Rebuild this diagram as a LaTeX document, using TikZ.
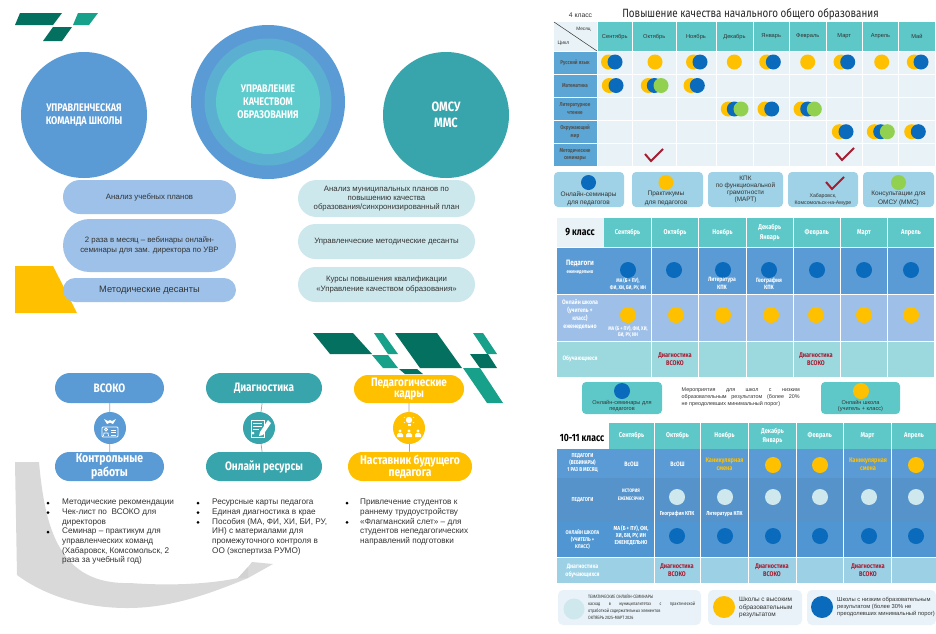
\documentclass[tikz,border=0pt]{standalone}
\usepackage{fontspec}
\setmainfont{Liberation Sans}
\newfontfamily\cond[FakeStretch=0.82]{Fira Sans}
\usetikzlibrary{shapes.misc}
\definecolor{dkteal}{HTML}{04705F}
\definecolor{ltteal}{HTML}{17A08A}
\definecolor{cblue}{HTML}{5B9BD5}
\definecolor{cteal}{HTML}{38A5AC}
\definecolor{cmid}{HTML}{5BB0D2}
\definecolor{cin}{HTML}{5ECBCD}
\definecolor{pblue}{HTML}{9DC1E8}
\definecolor{pltl}{HTML}{CDE8EC}
\definecolor{cyell}{HTML}{FFC000}
\definecolor{hdr}{HTML}{5EC8C8}
\definecolor{lite}{HTML}{E9F2F6}
\definecolor{first}{HTML}{5BA6D4}
\definecolor{dblue}{HTML}{0A6ABC}
\definecolor{dgreen}{HTML}{92D050}
\definecolor{chk}{HTML}{A61C30}
\definecolor{leg}{HTML}{9FD2E6}
\definecolor{ink}{HTML}{333333}
\definecolor{r9a}{HTML}{5B9BD5}
\definecolor{r9b}{HTML}{9DBFE8}
\definecolor{r9c}{HTML}{9CD9DF}
\definecolor{r10c}{HTML}{4F96D2}
\definecolor{r10d}{HTML}{9CD0E5}
\definecolor{dotl}{HTML}{CFE8EE}
\definecolor{pale}{HTML}{E8F2F8}
\definecolor{greyar}{HTML}{D9D9D9}
\newcommand{\fz}[2]{\fontsize{#1}{#2}\selectfont}
\tikzset{
  pill/.style={rounded rectangle,inner sep=0pt,align=center,text=ink},
  bigc/.style={circle,inner sep=0pt,align=center,text=white,font=\cond\bfseries\fz{11}{13}},
  hpill/.style={rounded rectangle,inner sep=0pt,align=center,text=white,font=\cond\bfseries\fz{12.2}{11}},
  icon/.style={circle,inner sep=0pt,minimum size=32pt},
  link/.style={draw=gray!70,line width=0.7pt},
  txt/.style={inner sep=0pt,align=center},
  lst/.style={inner sep=0pt,align=left,anchor=north west,text=ink,font=\fz{8.2}{9.67}},
  bul/.style={circle,fill=black,inner sep=0pt,minimum size=3pt},
  dot/.style={circle,inner sep=0pt,minimum size=15pt},
  dotb/.style={circle,inner sep=0pt,minimum size=16pt},
  hdt/.style={txt,font=\fz{5.7}{7},text=ink},
  rowt/.style={txt,font=\cond\bfseries\fz{5.6}{7.5},text=ink!85},
  hw/.style={txt,font=\cond\bfseries\fz{7}{9.5},text=white},
  sw/.style={txt,font=\cond\bfseries\fz{5.3}{6.4},text=white},
  redt/.style={txt,font=\cond\bfseries\fz{6.8}{8},text=chk},
  legt/.style={txt,font=\fz{6.5}{8.3},text=ink},
  legs/.style={inner sep=0pt,align=left,anchor=west,text=ink}
}
\newcommand{\ck}[2]{\draw[chk,line width=2pt] (#1-9,#2-1) -- (#1-3,#2+6) -- (#1+9,#2-6);}
\begin{document}
\begin{tikzpicture}[x=1pt,y=-1pt]
\useasboundingbox (0,0) rectangle (936,633);
\fill[white] (0,0) rectangle (936,633);
% logo
\fill[dkteal] (20,13)--(62,13)--(53,25)--(15,25)--cycle;
\fill[ltteal] (78,13)--(98,13)--(89,25)--(73,25)--cycle;
\fill[dkteal] (53,27)--(72,27)--(62,41)--(43,41)--cycle;
% circles
\node[bigc,fill=cblue,minimum size=126pt] (cleft) at (84,115) {УПРАВЛЕНЧЕСКАЯ\\КОМАНДА ШКОЛЫ};
\node[circle,fill=cblue,minimum size=154pt,inner sep=0pt] (c1) at (268,102) {};
\node[circle,fill=cmid,minimum size=127pt,inner sep=0pt] (c2) at (268,102) {};
\node[bigc,fill=cin,minimum size=104pt] (c3) at (268,102) {УПРАВЛЕНИЕ\\КАЧЕСТВОМ\\ОБРАЗОВАНИЯ};
\node[bigc,fill=cteal,minimum size=126pt,font=\cond\bfseries\fz{13.5}{16.5}] (cright) at (446,115) {ОМСУ\\ММС};
% yellow block, under pills
\fill[cyell] (15,266)--(53,266)--(77,313)--(15,313)--cycle;
% left pills
\node[pill,fill=pblue,minimum width=173pt,minimum height=34pt,font=\fz{7.8}{9.2}] (p1) at (149.5,197) {Анализ учебных планов};
\node[pill,fill=pblue,minimum width=173pt,minimum height=53pt,font=\fz{7.8}{9.2}] (p2) at (149.5,245.5) {2 раза в месяц – вебинары онлайн-\\семинары для зам. директора по УВР};
\node[pill,fill=pblue,minimum width=173pt,minimum height=24pt,font=\fz{9.3}{11}] (p3) at (149.5,290) {Методические десанты};
% right pills
\node[pill,fill=pltl,minimum width=177pt,minimum height=37pt,font=\fz{7.8}{9.2}] (q1) at (386.5,198.5) {Анализ муниципальных планов по\\повышению качества\\образования/синхронизированный план};
\node[pill,fill=pltl,minimum width=177pt,minimum height=35pt,font=\fz{7.8}{9.2}] (q2) at (386.5,241.5) {Управленческие методические десанты};
\node[pill,fill=pltl,minimum width=177pt,minimum height=35pt,font=\fz{7.8}{9.2}] (q3) at (386.5,284.5) {Курсы повышения квалификации\\«Управление качеством образования»};
% big teal logo
\fill[dkteal] (313,333)--(353,333)--(372,354)--(330,354)--cycle;
\fill[ltteal] (374,333)--(383,333)--(398,354)--(388,354)--cycle;
\fill[ltteal] (372,355)--(388,355)--(398,368)--(383,368)--cycle;
\fill[dkteal] (395,333)--(437,333)--(462,368)--(420,368)--cycle;
\fill[dkteal] (399,369)--(417,369)--(423,374)--(405,374)--cycle;
\fill[ltteal] (473,333)--(483,333)--(497,354)--(487,354)--cycle;
\fill[dkteal] (470,354)--(488,354)--(497,368)--(480,368)--cycle;
\fill[ltteal] (463,368)--(480,368)--(503,403)--(487,403)--cycle;
% grey arrow
\fill[greyar] (15,462) -- (39,462) .. controls (45,530) and (60,585) .. (130,583)
  .. controls (170,586) and (210,584) .. (238,578) -- (248,567) -- (252,562) -- (273,564) -- (248,578)
  .. controls (200,598) and (165,608) .. (127,608) .. controls (85,608) and (45,596) .. (17,575) -- cycle;
\fill[gray!35] (238,578)--(248,567)--(248,578)--cycle;
% pills 3 columns
\node[hpill,fill=cblue,minimum width=109pt,minimum height=30pt] (h1) at (109.5,388) {ВСОКО};
\node[hpill,fill=cblue,minimum width=109pt,minimum height=29pt,font=\cond\bfseries\fz{12.8}{14.5}] (h2) at (109.5,466.5) {Контрольные\\работы};
\node[hpill,fill=cteal,minimum width=116pt,minimum height=30pt] (h3) at (264,388) {Диагностика};
\node[hpill,fill=cteal,minimum width=116pt,minimum height=29pt] (h4) at (264,466.5) {Онлайн ресурсы};
\node[hpill,fill=cyell,minimum width=110pt,minimum height=28pt] (h5) at (409,389) {Педагогические\\кадры};
\node[hpill,fill=cyell,minimum width=124pt,minimum height=29pt,font=\cond\bfseries\fz{12.6}{12.4}] (h6) at (410,466.5) {Наставник будущего\\педагога};
\node[icon,fill=cblue] (i1) at (110,428) {};
\node[icon,fill=cteal] (i2) at (259,428) {};
\node[icon,fill=cyell] (i3) at (409,428) {};
\draw[link] (h1) -- (i1);
\draw[link] (i1) -- (h2);
\draw[link] (h3) -- (i2);
\draw[link] (i2) -- (h4);
\draw[link] (h5) -- (i3);
\draw[link] (i3) -- (h6);
% icon 1
\draw[white,line width=0.8pt,fill=none,rounded corners=1pt] (102,427) rectangle (118,437);
\draw[white,line width=0.8pt] (106,429.5) circle (1.5pt) (103.5,436) -- (104,433) -- (108,433) -- (108.5,436);
\draw[white,line width=0.7pt] (111,430)--(116,430) (111,432.5)--(116,432.5) (111,435)--(116,435);
\fill[white] (104,419) -- (108,421) -- (110,420) -- (112,421) -- (116,419) -- (113,424) -- (110,422.5) -- (107,424) -- cycle;
% icon 2
\draw[white,line width=1pt] (251,420) rectangle (264,437);
\draw[white,line width=0.8pt] (253,423)--(262,423) (253,426)--(262,426) (253,429)--(259,429);
\fill[white] (268,420) -- (271,423) -- (263,435) -- (259,436) -- (260,432) -- cycle;
\fill[white] (253,433) circle (1.5pt);
% icon 3
\fill[white] (409,420) circle (3.2pt);
\fill[white] (407.5,423.5) rectangle (410.5,426);
\foreach \a in {30,90,150,210,330} \draw[white,line width=0.5pt] (409,420) ++(\a:-4.5pt) -- ++(\a:-1.5pt);
\foreach \x in {400,409,418} {
  \fill[white] (\x,431) circle (1.7pt);
  \fill[white] (\x-3,437) -- (\x-3,434.5) -- (\x-1.5,433.2) -- (\x+1.5,433.2) -- (\x+3,434.5) -- (\x+3,437) -- cycle;
}
% lists
\node[bul] (b11) at (48,503) {};
\node[bul] (b12) at (48,512.5) {};
\node[bul] (b13) at (48,532) {};
\node[lst] (l1) at (62,499) {Методические рекомендации\\Чек-лист по\ \ ВСОКО для\\директоров\\Семинар – практикум для\\управленческих команд\\(Хабаровск, Комсомольск, 2\\раза за учебный год)};
\node[bul] (b21) at (198,503) {};
\node[bul] (b22) at (198,512.5) {};
\node[bul] (b23) at (198,522.3) {};
\node[lst] (l2) at (212,499) {Ресурсные карты педагога\\Единая диагностика в крае\\Пособия (МА, ФИ, ХИ, БИ, РУ,\\ИН) с материалами для\\промежуточного контроля в\\ОО (экспертиза РУМО)};
\node[bul] (b31) at (347,503) {};
\node[bul] (b32) at (347,522.3) {};
\node[lst] (l3) at (360,499) {Привлечение студентов к\\раннему трудоустройству\\«Флагманский слет» – для\\студентов непедагогических\\направлений подготовки};
% ---------- table 4 class
\node[txt,font=\cond\fz{12}{13},text=black!85] (t4) at (750.5,14) {Повышение качества начального общего образования};
\node[txt,font=\fz{6.8}{8},text=ink] (k4) at (580.5,15.5) {4 класс};
\fill[lite] (554,22) rectangle (597,51);
\coordinate (d1) at (554,22);
\coordinate (d2) at (597,51);
\draw[ink,line width=0.5pt] (d1) -- (d2);
\node[hdt,font=\fz{4.8}{5}] (mes) at (583.5,29) {Месяц};
\node[hdt,font=\fz{5}{5}] (cyc) at (563.5,43) {Цикл};
\foreach \a/\b/\n in {597.5/632/Сентябрь,633/675.5/Октябрь,676.5/715.5/Ноябрь,716.5/752.5/Декабрь,753.5/789/Январь,790/825.5/Февраль,826.5/862/Март,863/898/Апрель,899/935/Май}{
  \fill[hdr] (\a,22) rectangle (\b,51);
  \node[hdt] (h4\n) at ({(\a+\b)/2},36.5) {\n};
  \foreach \c/\d in {52/74,75/97,97.5/120,121/143,143.5/166} \fill[lite] (\a,\c) rectangle (\b,\d);
}
\foreach \c/\d/\t/\nm in {52/74/{Русский язык}/ra,75/97/{Математика}/rb,97.5/120/{Литературное\\чтение}/rc,121/143/{Окружающий\\мир}/rd,143.5/166/{Методические\\семинары}/re}{
  \fill[first] (554,\c) rectangle (596.5,\d);
  \node[rowt] (\nm) at (575,{(\c+\d)/2}) {\t};
}
\foreach \x/\y in {608.5/62,655/62,693.5/62,734.3/62,766.7/62,807.7/62,841/62,881.7/62,914.3/62,
  609.3/85.5,648.3/85.5,691/85.5,
  728.3/109,765/109,801/109,
  839.3/131.7,874.3/131.7,911.7/131.7}
  \node[dot,fill=cyell] (y\x-\y) at (\x,\y) {};
\foreach \x/\y in {615/62,700/62,773.3/62,847.7/62,921/62,
  616/85.5,654.3/85.5,697.3/85.5,
  734.3/109,771.7/109,807.7/109,
  846/131.7,880.7/131.7,918.3/131.7}
  \node[dot,fill=dblue] (b\x-\y) at (\x,\y) {};
\foreach \x/\y in {661/85.5,741/109,814.3/109,887.3/131.7}
  \node[dot,fill=dgreen] (g\x-\y) at (\x,\y) {};
\ck{654}{155}
\ck{845}{154}
% legend 4
\foreach \a/\b in {554/624,632/703,708/783,788/858,863/934}
  \fill[leg,rounded corners=4pt] (\a,172) rectangle (\b,207);
\node[dot,fill=dblue] (ld1) at (588.5,182.5) {};
\node[legt] (lt1) at (588.5,198.5) {Онлайн-семинары\\для педагогов};
\node[dot,fill=cyell] (ld2) at (666,182.5) {};
\node[legt] (lt2) at (666,198.5) {Практикумы\\для педагогов};
\node[legt,font=\fz{6.4}{7.3}] (lt3) at (745.5,189.5) {КПК\\по функциональной\\грамотности\\(МАРТ)};
\ck{835}{183}
\node[legt,font=\fz{5.2}{6.8}] (lt4) at (823,199.5) {Хабаровск,\\Комсомольск-на-Амуре};
\node[dot,fill=dgreen] (ld5) at (898.5,182.5) {};
\node[legt] (lt5) at (898.5,198.5) {Консультации для\\ОМСУ (ММС)};
% ---------- table 9 class
\fill[lite] (557,218) rectangle (603.5,247);
\node[txt,font=\cond\bfseries\fz{10.5}{11},text=black] (k9) at (580,232) {9 класс};
\foreach \a/\b/\n in {604/651/{Сентябрь},652/698/{Октябрь},699/746/{Ноябрь},746.5/793/{Декабрь\\Январь},793.5/840/{Февраль},841/887/{Март},888/934/{Апрель}}{
  \fill[hdr] (\a,218) rectangle (\b,247);
  \node[hw] at ({(\a+\b)/2},232.5) {\n};
  \fill[r9a] (\a,248) rectangle (\b,294);
  \fill[r9b] (\a,295) rectangle (\b,340.5);
  \fill[r9c] (\a,341.5) rectangle (\b,377);
}
\fill[r9a] (557,248) rectangle (603.5,294);
\fill[r9b] (557,295) rectangle (603.5,340.5);
\fill[r9c] (557,341.5) rectangle (603.5,377);
\node[hw,font=\cond\bfseries\fz{7.8}{7.6}] (r91) at (580,267) {Педагоги\\{\fz{5.2}{5.6}еженедельно}};
\node[hw,font=\cond\bfseries\fz{6.4}{7.7}] (r92) at (580,314.5) {Онлайн школа\\(учитель +\\класс)\\еженедельно};
\node[hw,font=\cond\bfseries\fz{6.4}{7}] (r93) at (580,359) {Обучающиеся};
\foreach \x in {628,674,723,769,817,864,911} \node[dotb,fill=dblue] (n\x) at (\x,270) {};
\foreach \x in {628,676,723,771,816,864,911} \node[dotb,fill=cyell] (m\x) at (\x,315) {};
\node[sw] (s91) at (628,284) {МА (Б + ПУ),\\ФИ, ХИ, БИ, РУ, ИН};
\node[sw,font=\cond\bfseries\fz{6.2}{7.4}] (s92) at (722,283.5) {Литература\\КПК};
\node[sw,font=\cond\bfseries\fz{6.2}{7.4}] (s93) at (769,283.5) {География\\КПК};
\node[sw] (s94) at (628,331.5) {МА (Б + ПУ), ФИ, ХИ,\\БИ, РУ, ИН};
\node[redt] (s95) at (675,359) {Диагностика\\ВСОКО};
\node[redt] (s96) at (816,359) {Диагностика\\ВСОКО};
\fill[hdr,rounded corners=4pt] (582,382) rectangle (662,414);
\node[dotb,fill=dblue] (ld6) at (622,391) {};
\node[legt,font=\fz{5.6}{6.8}] (lt6) at (622,406) {Онлайн-семинары для\\педагогов};
\node[inner sep=0pt,text width=118pt,align=justify,font=\fz{5.4}{7},text=ink,anchor=north west] (lt7) at (681.5,388) {Мероприятия для школ с низким\linebreak образовательным результатом (более 20\%\linebreak не преодолевших минимальный порог)};
\fill[hdr,rounded corners=4pt] (821,382) rectangle (900,414);
\node[dotb,fill=cyell] (ld8) at (861,391) {};
\node[legt,font=\fz{5.6}{6.8}] (lt8) at (860.5,406) {Онлайн школа\\(учитель + класс)};
% ---------- table 10-11
\node[txt,font=\cond\bfseries\fz{10.5}{11},text=black] (k10) at (582,438) {10-11 класс};
\foreach \a/\b/\n in {609/654/{Сентябрь},655/700/{Октябрь},701/748/{Ноябрь},749/796/{Декабрь\\Январь},796.5/843/{Февраль},844/891/{Март},892/936/{Апрель}}{
  \fill[hdr] (\a,423) rectangle (\b,448.5);
  \node[hw] at ({(\a+\b)/2},436) {\n};
}
\foreach \a/\b in {557/608.5,609/654,655/700,701/748,749/796,796.5/843,844/891,892/936}{
  \fill[r9a] (\a,449) rectangle (\b,477.5);
  \fill[r9a!95!black] (\a,477.5) rectangle (\b,522);
  \fill[r10c] (\a,522) rectangle (\b,557);
  \fill[r10d] (\a,558) rectangle (\b,583);
}
\node[sw,font=\cond\bfseries\fz{5.6}{7}] (a1) at (582.5,463) {ПЕДАГОГИ\\(ВЕБИНАРЫ)\\1 РАЗ В МЕСЯЦ};
\node[sw,font=\cond\bfseries\fz{5.6}{7}] (a2) at (582.5,499.5) {ПЕДАГОГИ};
\node[sw,font=\cond\bfseries\fz{5.4}{7.4}] (a3) at (582.5,539.5) {ОНЛАЙН ШКОЛА\\(УЧИТЕЛЬ +\\КЛАСС)};
\node[hw,font=\cond\bfseries\fz{6.4}{8}] (a4) at (582.5,570.5) {Диагностика\\обучающихся};
\node[sw,font=\cond\bfseries\fz{6.4}{7}] (v1) at (631.5,464) {ВсОШ};
\node[sw,font=\cond\bfseries\fz{6.4}{7}] (v2) at (677.5,464) {ВсОШ};
\node[redt,text=cyell,font=\cond\bfseries\fz{6.8}{7.8}] (v3) at (724.5,464) {Каникулярная\\смена};
\node[redt,text=cyell,font=\cond\bfseries\fz{6.8}{7.8}] (v4) at (868,464) {Каникулярная\\смена};
\foreach \x in {773,820,916} \node[dotb,fill=cyell] (z\x) at (\x,465) {};
\foreach \x in {677,725,773,820,869,916} \node[dotb,fill=dotl] (o\x) at (\x,497) {};
\foreach \x in {677,725,773,820,869,916} \node[dotb,fill=dblue] (w\x) at (\x,536) {};
\node[sw,font=\cond\bfseries\fz{5}{7.6}] (v5) at (631,495) {ИСТОРИЯ\\ЕЖЕМЕСЯЧНО};
\node[sw,font=\cond\bfseries\fz{5.8}{6}] (v6) at (677,514) {География КПК};
\node[sw,font=\cond\bfseries\fz{5.8}{6}] (v7) at (724.5,514) {Литература КПК};
\node[sw,font=\cond\bfseries\fz{5.8}{6.6}] (v8) at (631,535.5) {МА (Б + ПУ), ФИ,\\ХИ, БИ, РУ, ИН\\ЕЖЕНЕДЕЛЬНО};
\node[redt] (v9) at (677,570.5) {Диагностика\\ВСОКО};
\node[redt] (v10) at (772,570.5) {Диагностика\\ВСОКО};
\node[redt] (v11) at (868,570.5) {Диагностика\\ВСОКО};
% legend 10-11
\fill[pale,rounded corners=5pt] (558,590) rectangle (701,625);
\node[circle,fill=dotl,inner sep=0pt,minimum size=21pt] (ld9) at (574,609) {};
\node[inner sep=0pt,text width=107pt,align=justify,font=\cond\fz{4.7}{7},text=ink,anchor=north west] (lt9) at (588,594) {ТЕМАТИЧЕСКИЕ ОНЛАЙН-СЕМИНАРЫ\\каскад в муниципалитетах с практической\linebreak отработкой содержательных элементов\\ОКТЯБРЬ 2025–МАРТ 2026};
\fill[pale,rounded corners=5pt] (708,590) rectangle (802,625);
\node[circle,fill=cyell,inner sep=0pt,minimum size=22pt] (ld10) at (724,607) {};
\node[legs,font=\fz{6.4}{7.8}] (lt10) at (739,607.5) {Школы с высоким\\образовательным\\результатом};
\fill[pale,rounded corners=5pt] (807,590) rectangle (936,625);
\node[circle,fill=dblue,inner sep=0pt,minimum size=22pt] (ld11) at (822,607) {};
\node[legs,font=\fz{5.8}{7.2}] (lt11) at (837,607) {Школы с низким образовательным\\результатом (более 30\% не\\преодолевших минимальный порог)};
\end{tikzpicture}
\end{document}
